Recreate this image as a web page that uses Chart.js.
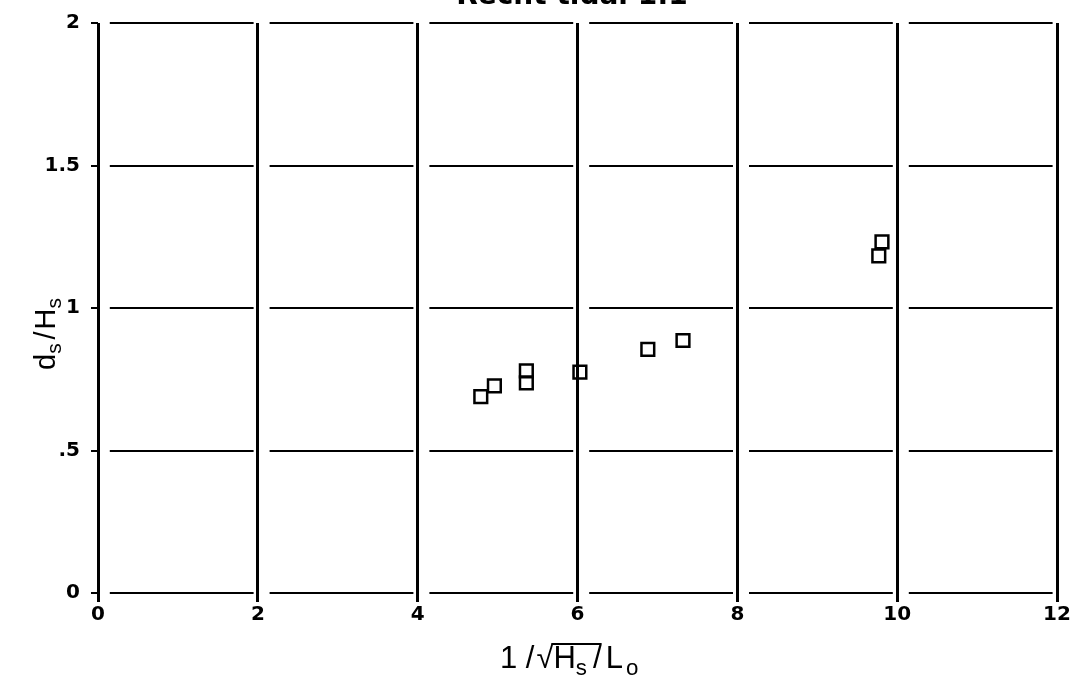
<!DOCTYPE html>
<html>
<head>
<title>ds/Hs scatter</title>
<script src="https://cdn.jsdelivr.net/npm/chart.js@4"></script>
<style>
  body { margin: 0; background: #fff; }
  #wrap { width: 1079px; height: 684px; }
</style>
</head>
<body>
<div id="wrap"><canvas id="myChart"></canvas></div>
<script>
// data
const xValues = [4.79, 4.96, 5.36, 5.36, 6.03, 6.88, 7.32, 9.77, 9.81];
const yValues = [0.689, 0.727, 0.779, 0.737, 0.775, 0.855, 0.886, 1.183, 1.232];
const xTicks = [0, 2, 4, 6, 8, 10, 12];
const yTicks = [0, 0.5, 1, 1.5, 2];
const yTickText = ['0', '.5', '1', '1.5', '2'];
const titleText = 'Recht tidal 1:1';

const points = xValues.map((x, i) => ({ x: x, y: yValues[i] }));

// draws a run of text pieces, subscripts smaller and lower
function drawParts(ctx, parts, x, y, size) {
  let cx = x;
  parts.forEach(p => {
    const s = p.sub ? size * 0.72 : size;
    ctx.font = s + 'px "Liberation Sans"';
    ctx.fillText(p.t, cx, y + (p.sub ? size * 0.22 : 0));
    const w = ctx.measureText(p.t).width;
    p.x0 = cx; p.x1 = cx + w;
    cx += w + (p.gap || 0);
  });
  return parts;
}

const labelsPlugin = {
  id: 'labels',
  afterDraw(chart) {
    const ctx = chart.ctx;
    ctx.save();
    ctx.fillStyle = '#000';
    ctx.textBaseline = 'alphabetic';
    ctx.textAlign = 'center';
    ctx.font = 'bold 28px "DejaVu Sans"';
    ctx.fillText(titleText, 572, 4);

    ctx.textAlign = 'left';
    // x axis title
    const xp = drawParts(ctx, [
      { t: '1 /', gap: 2 },
      { t: '\u221A' },
      { t: 'H' },
      { t: 's', sub: true, gap: 6 },
      { t: '/', gap: 4 },
      { t: 'L', gap: 3 },
      { t: 'o', sub: true }
    ], 500, 668, 31);
    ctx.strokeStyle = '#000';
    ctx.lineWidth = 2;
    ctx.beginPath();
    ctx.moveTo(xp[1].x1 - 2, 644);
    ctx.lineTo(xp[4].x1, 644);
    ctx.stroke();

    // y axis title
    ctx.translate(55, 370);
    ctx.rotate(-Math.PI / 2);
    drawParts(ctx, [
      { t: 'd' },
      { t: 's', sub: true, gap: 4 },
      { t: '/', gap: 2 },
      { t: 'H' },
      { t: 's', sub: true }
    ], 0, 0, 29);
    ctx.restore();
  }
};

new Chart(document.getElementById('myChart'), {
  type: 'scatter',
  data: {
    datasets: [{
      data: points,
      pointStyle: 'rect',
      pointRadius: 9,
      pointHoverRadius: 9,
      pointBorderWidth: 2.5,
      borderColor: '#000',
      backgroundColor: 'rgba(0,0,0,0)'
    }]
  },
  options: {
    responsive: true,
    maintainAspectRatio: false,
    animation: false,
    layout: { padding: { left: 0, top: 16, right: 22, bottom: 0 } },
    plugins: { legend: { display: false }, tooltip: { enabled: false } },
    scales: {
      x: {
        type: 'linear',
        min: 0, max: 12,
        afterBuildTicks: s => { s.ticks = xTicks.map(v => ({ value: v })); },
        afterFit: s => { s.height = 91; },
        border: { display: false },
        grid: { color: '#000', lineWidth: 3, tickLength: 9 },
        ticks: {
          color: '#000', padding: 1,
          font: { family: 'DejaVu Sans', weight: 'bold', size: 20 }
        }
      },
      y: {
        type: 'linear',
        min: 0, max: 2,
        afterBuildTicks: s => { s.ticks = yTicks.map(v => ({ value: v })); },
        afterFit: s => { s.width = 98; },
        border: { display: false, dash: [143.8, 16], dashOffset: 148 },
        grid: { color: '#000', lineWidth: 2, tickLength: 7 },
        ticks: {
          color: '#000', padding: 11,
          font: { family: 'DejaVu Sans', weight: 'bold', size: 20 },
          callback: (v) => yTickText[yTicks.indexOf(v)]
        }
      }
    }
  },
  plugins: [labelsPlugin]
});
</script>
</body>
</html>
